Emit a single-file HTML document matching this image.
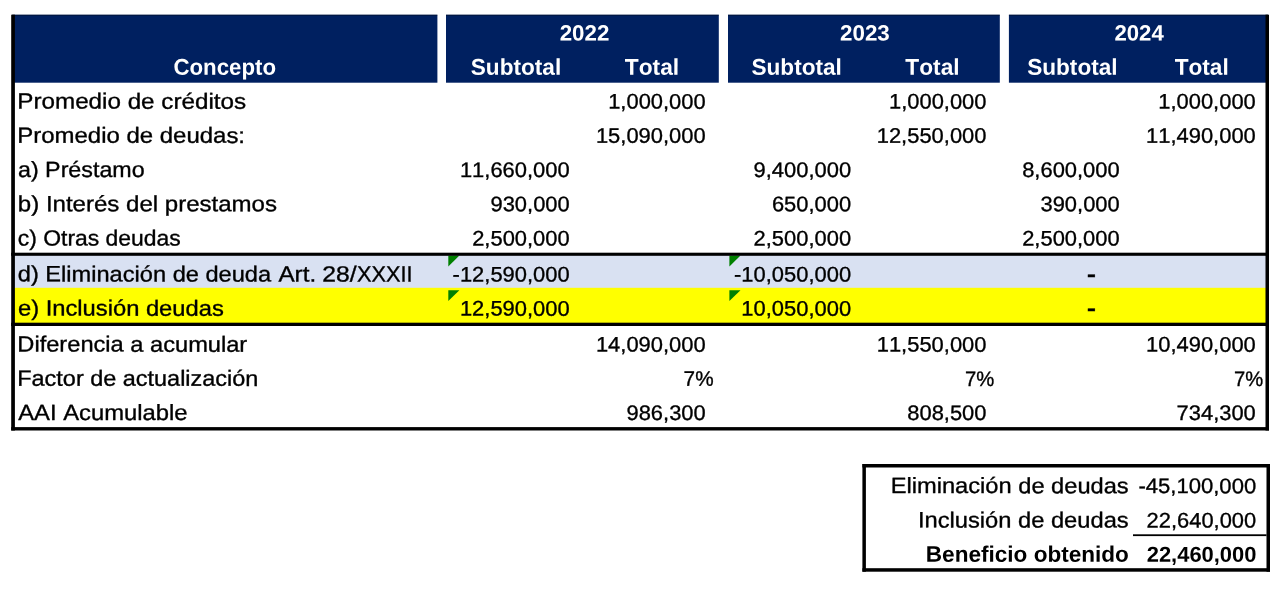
<!DOCTYPE html>
<html lang="es">
<head>
<meta charset="utf-8">
<title>Ajuste anual por inflación</title>
<style>
html,body{margin:0;padding:0;background:#fff;}
body{width:1285px;height:589px;position:relative;overflow:hidden;
  font-family:"Liberation Sans",sans-serif;font-size:22px;line-height:25px;color:#000;
  font-kerning:none;font-variant-ligatures:none;text-rendering:geometricPrecision;}
#bg{position:absolute;left:0;top:0;width:1285px;height:589px;display:block;}
#sheet span{position:absolute;left:0;top:0;white-space:pre;display:block;
  transform-origin:0 20px;-webkit-text-stroke:0.35px currentColor;}
#sheet span.w{color:#fff;}
#sheet span.w,#sheet span.b{font-weight:bold;-webkit-text-stroke:0;}
</style>
</head>
<body>
<svg id="bg" width="1285" height="589" viewBox="0 0 1285 589">
<rect x="12.2" y="14.7" width="425.2" height="68" fill="#002060"/>
<rect x="446" y="14.7" width="272.8" height="68" fill="#002060"/>
<rect x="728" y="14.7" width="271.8" height="68" fill="#002060"/>
<rect x="1008.9" y="14.7" width="259.1" height="68" fill="#002060"/>
<rect x="12.2" y="14.7" width="425.2" height="1" fill="#000" fill-opacity="0.4"/>
<rect x="446" y="14.7" width="272.8" height="1" fill="#000" fill-opacity="0.4"/>
<rect x="728" y="14.7" width="271.8" height="1" fill="#000" fill-opacity="0.4"/>
<rect x="1008.9" y="14.7" width="259.1" height="1" fill="#000" fill-opacity="0.4"/>
<rect x="12.2" y="253.7" width="1255.8" height="35.1" fill="#d9e1f2"/>
<rect x="12.2" y="287.8" width="1255.8" height="37.2" fill="#ffff00"/>
<path d="M448.3 255.6h11.1l-11.1 10.8z" fill="#008000"/>
<path d="M448.3 290.3h11.1l-11.1 10.8z" fill="#008000"/>
<path d="M729.4 255.6h11.1l-11.1 10.8z" fill="#008000"/>
<path d="M729.4 290.3h11.1l-11.1 10.8z" fill="#008000"/>
<rect x="11.2" y="252.7" width="1257.8" height="3.1" fill="#000"/>
<rect x="11.2" y="322.7" width="1257.8" height="3.3" fill="#000"/>
<rect x="11.2" y="427.1" width="1257.8" height="3.4" fill="#000"/>
<rect x="11.2" y="14.7" width="3.7" height="415.8" fill="#000"/>
<rect x="1265.5" y="14.7" width="3.5" height="415.8" fill="#000"/>
<rect x="862.4" y="464" width="407.6" height="3.5" fill="#000"/>
<rect x="862.4" y="568.2" width="407.6" height="3.5" fill="#000"/>
<rect x="862.4" y="464" width="3.5" height="107.7" fill="#000"/>
<rect x="1266.5" y="464" width="3.5" height="107.7" fill="#000"/>
<rect x="1133" y="534.3" width="133.5" height="1.8" fill="#000"/>
</svg>
<div id="sheet">
<div class="head">
<span class="w" style="transform:translate(173.39px,54.67px) rotate(0.03deg) scale(1.0113,1.035)">Concepto</span>
<span class="w" style="transform:translate(559.63px,20.39px) rotate(0.03deg) scale(1.0148,1.005)">2022</span>
<span class="w" style="transform:translate(470.75px,54.68px) rotate(0.03deg) scale(1.0280,1.035)">Subtotal</span>
<span class="w" style="transform:translate(624.74px,54.69px) rotate(0.03deg) scale(1.0346,1.035)">Total</span>
<span class="w" style="transform:translate(840.02px,20.39px) rotate(0.03deg) scale(1.0172,1.005)">2023</span>
<span class="w" style="transform:translate(751.45px,54.68px) rotate(0.03deg) scale(1.0280,1.035)">Subtotal</span>
<span class="w" style="transform:translate(905.34px,54.69px) rotate(0.03deg) scale(1.0326,1.035)">Total</span>
<span class="w" style="transform:translate(1114.43px,20.39px) rotate(0.03deg) scale(1.0091,1.005)">2024</span>
<span class="w" style="transform:translate(1027.15px,54.68px) rotate(0.03deg) scale(1.0280,1.035)">Subtotal</span>
<span class="w" style="transform:translate(1174.65px,54.69px) rotate(0.03deg) scale(1.0287,1.035)">Total</span>
</div>
<div class="row">
<span style="transform:translate(17.29px,88.57px) rotate(0.03deg) scale(1.1007,1)">Promedio de créditos</span>
<span style="transform:translate(608.17px,88.60px) rotate(0.03deg) scale(0.9963,0.955)">1,000,000</span>
<span style="transform:translate(888.97px,88.60px) rotate(0.03deg) scale(0.9963,0.955)">1,000,000</span>
<span style="transform:translate(1158.27px,88.60px) rotate(0.03deg) scale(0.9963,0.955)">1,000,000</span>
</div>
<div class="row">
<span style="transform:translate(17.31px,122.77px) rotate(0.03deg) scale(1.0888,1)">Promedio de deudas:</span>
<span style="transform:translate(595.93px,122.80px) rotate(0.03deg) scale(0.9967,0.955)">15,090,000</span>
<span style="transform:translate(876.73px,122.80px) rotate(0.03deg) scale(0.9967,0.955)">12,550,000</span>
<span style="transform:translate(1146.03px,122.80px) rotate(0.03deg) scale(0.9967,0.955)">11,490,000</span>
</div>
<div class="row">
<span style="transform:translate(17.99px,156.99px) rotate(0.03deg) scale(1.0567,1)">a) Préstamo</span>
<span style="transform:translate(459.93px,157.00px) rotate(0.03deg) scale(0.9967,0.955)">11,660,000</span>
<span style="transform:translate(753.57px,157.00px) rotate(0.03deg) scale(0.9964,0.955)">9,400,000</span>
<span style="transform:translate(1022.17px,157.00px) rotate(0.03deg) scale(0.9964,0.955)">8,600,000</span>
</div>
<div class="row">
<span style="transform:translate(17.83px,191.16px) rotate(0.03deg) scale(1.0925,1)">b) Interés del prestamos</span>
<span style="transform:translate(490.51px,191.20px) rotate(0.03deg) scale(0.9955,0.955)">930,000</span>
<span style="transform:translate(771.92px,191.20px) rotate(0.03deg) scale(0.9955,0.955)">650,000</span>
<span style="transform:translate(1040.51px,191.20px) rotate(0.03deg) scale(0.9955,0.955)">390,000</span>
</div>
<div class="row">
<span style="transform:translate(17.80px,225.38px) rotate(0.03deg) scale(1.0411,1)">c) Otras deudas</span>
<span style="transform:translate(472.17px,225.40px) rotate(0.03deg) scale(0.9964,0.955)">2,500,000</span>
<span style="transform:translate(753.57px,225.40px) rotate(0.03deg) scale(0.9964,0.955)">2,500,000</span>
<span style="transform:translate(1022.17px,225.40px) rotate(0.03deg) scale(0.9964,0.955)">2,500,000</span>
</div>
<div class="row">
<span style="transform:translate(17.78px,261.36px) rotate(0.03deg) scale(1.0733,1)">d) Eliminación de deuda </span>
<span style="transform:translate(278.43px,261.42px) rotate(0.03deg) scale(1.1019,1)">Art. </span>
<span style="transform:translate(322.33px,261.42px) rotate(0.03deg) scale(1.1212,1)">28/</span>
<span style="transform:translate(356.99px,261.41px) rotate(0.03deg) scale(0.9856,1)">XXXII</span>
<span style="transform:translate(452.60px,261.39px) rotate(0.03deg) scale(0.9970,0.955)">-12,590,000</span>
<span style="transform:translate(734.00px,261.39px) rotate(0.03deg) scale(0.9970,0.955)">-10,050,000</span>
<span style="transform:translate(1086.73px,263.39px) rotate(0.03deg) scale(1.2753,1.3)">-</span>
</div>
<div class="row">
<span style="transform:translate(17.97px,295.57px) rotate(0.03deg) scale(1.0787,1)">e) Inclusión deudas</span>
<span style="transform:translate(459.93px,295.60px) rotate(0.03deg) scale(0.9967,0.955)">12,590,000</span>
<span style="transform:translate(741.33px,295.60px) rotate(0.03deg) scale(0.9967,0.955)">10,050,000</span>
<span style="transform:translate(1086.73px,297.59px) rotate(0.03deg) scale(1.2753,1.3)">-</span>
</div>
<div class="row">
<span style="transform:translate(17.34px,331.57px) rotate(0.03deg) scale(1.0743,1)">Diferencia a acumular</span>
<span style="transform:translate(595.93px,331.60px) rotate(0.03deg) scale(0.9967,0.955)">14,090,000</span>
<span style="transform:translate(876.73px,331.60px) rotate(0.03deg) scale(0.9967,0.955)">11,550,000</span>
<span style="transform:translate(1146.03px,331.60px) rotate(0.03deg) scale(0.9967,0.955)">10,490,000</span>
</div>
<div class="row">
<span style="transform:translate(17.25px,365.76px) rotate(0.03deg) scale(1.0657,1)">Factor de actualización</span>
<span style="transform:translate(683.61px,365.82px) rotate(0.03deg) scale(0.9420,0.955)">7%</span>
<span style="transform:translate(965.04px,365.82px) rotate(0.03deg) scale(0.9219,0.955)">7%</span>
<span style="transform:translate(1233.94px,365.82px) rotate(0.03deg) scale(0.9185,0.955)">7%</span>
</div>
<div class="row">
<span style="transform:translate(18.23px,399.98px) rotate(0.03deg) scale(1.0820,1)">AAI Acumulable</span>
<span style="transform:translate(626.51px,400.00px) rotate(0.03deg) scale(0.9955,0.955)">986,300</span>
<span style="transform:translate(907.31px,400.00px) rotate(0.03deg) scale(0.9955,0.955)">808,500</span>
<span style="transform:translate(1176.62px,400.00px) rotate(0.03deg) scale(0.9955,0.955)">734,300</span>
</div>
<div class="sum">
<span style="transform:translate(890.74px,473.06px) rotate(0.03deg) scale(1.0749,1)">Eliminación de deudas</span>
<span style="transform:translate(1138.39px,473.09px) rotate(0.03deg) scale(1.0031,0.955)">-45,100,000</span>
</div>
<div class="sum">
<span style="transform:translate(917.89px,507.37px) rotate(0.03deg) scale(1.0771,1)">Inclusión de deudas</span>
<span style="transform:translate(1146.57px,507.40px) rotate(0.03deg) scale(0.9955,0.955)">22,640,000</span>
</div>
<div class="sum">
<span class="b" style="transform:translate(925.79px,541.65px) rotate(0.03deg) scale(1.0257,1.02)">Beneficio obtenido</span>
<span class="b" style="transform:translate(1146.74px,541.67px) rotate(0.03deg) scale(0.9959,0.98)">22,460,000</span>
</div>
</div>
</body>
</html>
